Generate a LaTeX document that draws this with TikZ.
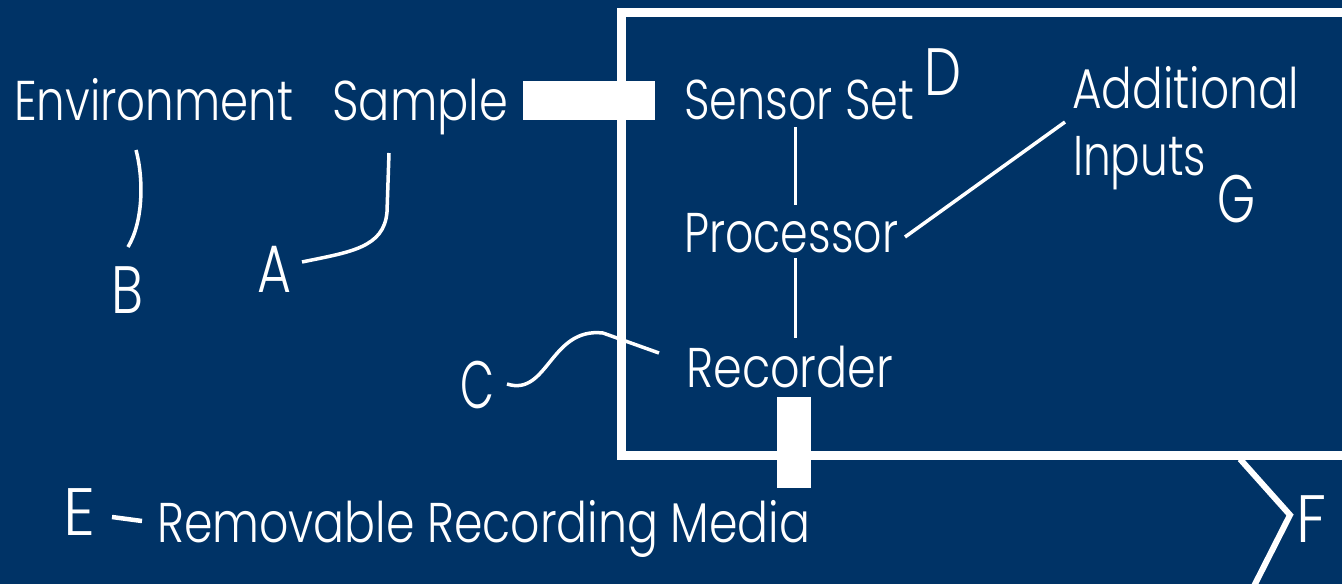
\documentclass[tikz,border=0pt]{standalone}
\usepackage{fontspec}
\setmainfont{Poppins Light}
\usepackage{graphicx}
\definecolor{bg}{RGB}{0,51,102}
\newcommand{\fw}[2]{\resizebox{#1pt}{\height}{#2}}
\begin{document}
\begin{tikzpicture}[x=1pt,y=-1pt,
  lbl/.style={text=white,inner sep=0pt,anchor=base west,font=\fontsize{56}{60}\selectfont},
  letter/.style={text=white,inner sep=0pt,anchor=base west,font=\fontsize{67}{70}\selectfont},
  wire/.style={draw=white,line width=3.5pt},
  bar/.style={fill=white,draw=none,inner sep=0pt,minimum width=#1},
  bar/.default=10pt
  ]
\fill[bg] (0,0) rectangle (1342,584);
\useasboundingbox (0,0) rectangle (1342,584);
\begin{scope}
\clip (0,0) rectangle (1342,584);
% enclosure
\draw[white,line width=9pt] (1360,12.5) -- (621.5,12.5) -- (621.5,455) -- (1360,455);
% text labels
\node[lbl] (env) at (14,120) {\fw{279}{Environment}};
\node[lbl] (sample) at (332,120) {\fw{176}{Sample}};
\node[lbl] (sensor) at (684,119) {\fw{230}{Sensor Set}};
\node[lbl] (proc) at (684,252) {\fw{214}{Processor}};
\node[lbl] (rec) at (686,387) {\fw{207}{Recorder}};
\node[lbl] (addl) at (1072,108) {\fw{227}{Additional}};
\node[lbl] (inp) at (1073,175) {\fw{133}{Inputs}};
\node[lbl] (media) at (157,542) {\fw{653}{Removable Recording Media}};
% letters
\node[letter] (A) at (257,292) {\fw{34}{A}};
\node[letter] (B) at (111,313) {\fw{32}{B}};
\node[letter] (C) at (460,408) {\fw{34}{C}};
\node[letter] (D) at (924,95) {\fw{37}{D}};
\node[letter] (E) at (63,535) {\fw{32}{E}};
\node[letter] (F) at (1296,542) {\fw{30}{F}};
\node[letter] (G) at (1217,222) {\fw{38}{G}};
% bars (plugs)
\node[bar=132pt,minimum height=39pt] (plug) at (589,100.5) {};
\node[bar=34pt,minimum height=91pt] (slot) at (794,442.5) {};
% connector end points
\coordinate (b1) at (136,150); \coordinate (b2) at (128,247);
\coordinate (a1) at (389,153); \coordinate (a2) at (302,262);
\coordinate (s1) at (795,127); \coordinate (p1) at (795,205);
\coordinate (p2) at (795,258); \coordinate (r1) at (795,338);
\coordinate (p3) at (905,237); \coordinate (g1) at (1065,122);
\coordinate (c1) at (507,384); \coordinate (c2) at (659,353);
\coordinate (e1) at (112,517); \coordinate (e2) at (142,521);
\coordinate (f1) at (1240,459); \coordinate (f2) at (1290,515); \coordinate (f3) at (1252,590);
% connectors
\draw[wire] (b1) .. controls (144,180) and (143,222) .. (b2);
\draw[wire] (a1) -- (387,212) .. controls (384,248) and (350,252) .. (a2);
\draw[wire,line width=3pt] (s1) -- (p1);
\draw[wire,line width=3pt] (p2) -- (r1);
\draw[wire] (p3) -- (g1);
\draw[wire] (c1) .. controls (548,397) and (550,327) .. (603,333) -- (c2);
\draw[wire,line width=4.5pt] (e1) -- (e2);
\draw[wire,line width=6pt] (f1) -- (f2) -- (f3);
\end{scope}
\end{tikzpicture}
\end{document}
